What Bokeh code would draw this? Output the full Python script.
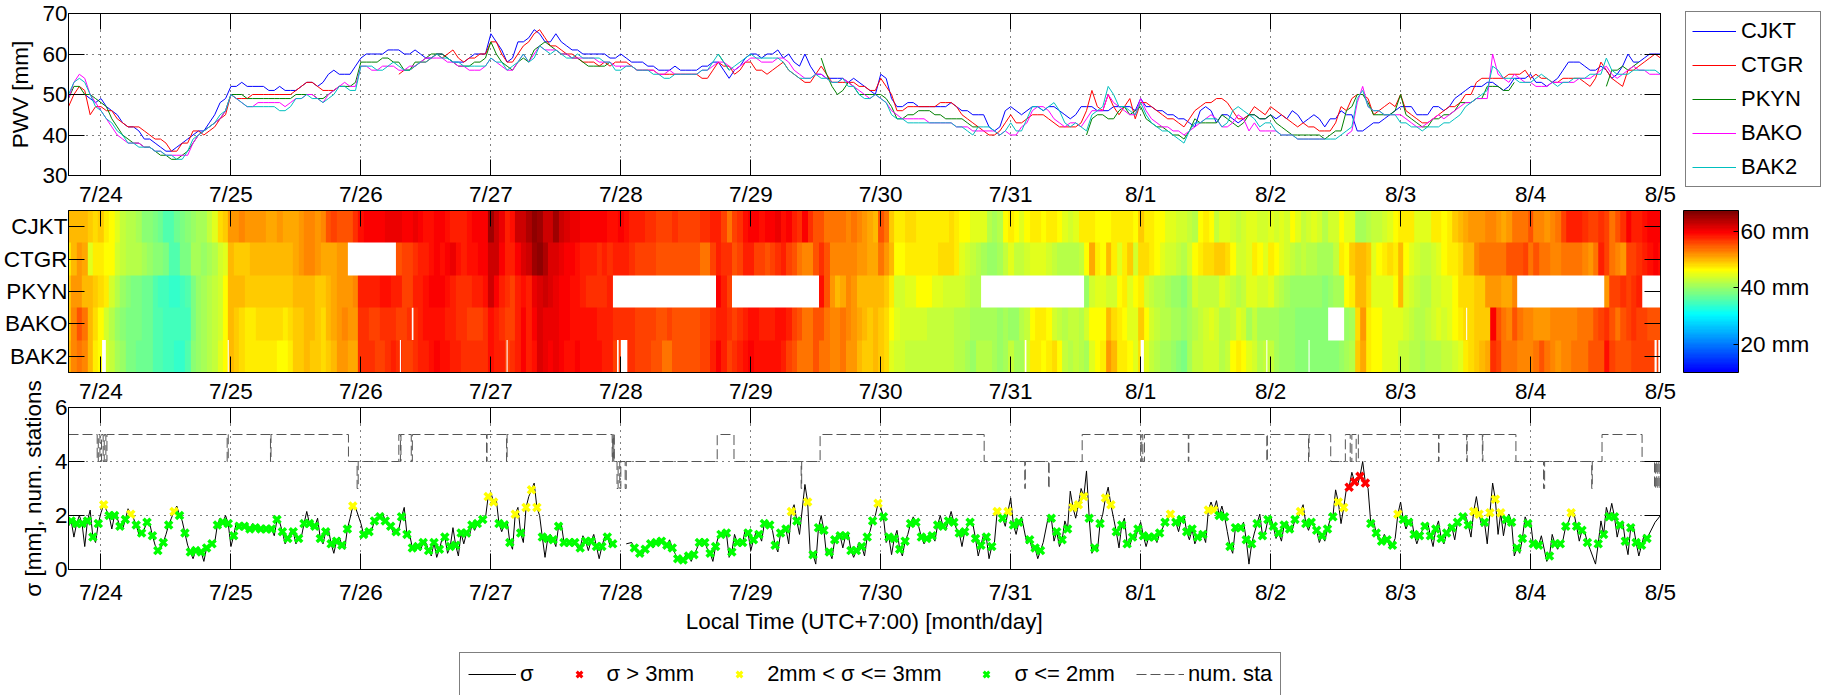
import numpy as np
from bokeh.embed import file_html
from bokeh.layouts import column
from bokeh.models import (ColorBar, CustomJSTickFormatter, FixedTicker, Legend, LegendItem,
                          LinearAxis, LinearColorMapper, PrintfTickFormatter)
from bokeh.plotting import figure
from bokeh.resources import INLINE

FONT = "Liberation Sans"
FONT_SIZE = "22.5px"
NAN = float("nan")

day_hours = [0, 24, 48, 72, 96, 120, 144, 168, 192, 216, 240, 264, 288]
day_labels = ["7/24", "7/25", "7/26", "7/27", "7/28", "7/29", "7/30", "7/31", "8/1", "8/2", "8/3", "8/4", "8/5"]
stations = ["BAK2", "BAKO", "PKYN", "CTGR", "CJKT"]

# hourly PWV [mm], hour -6 (7/23 18:00) to 288, one row per day
cjkt = [50, 50, 50, 50, 49, 48,
        49, 47, 46, 45, 43, 42, 42, 41, 39, 39, 38, 37, 36, 36, 37, 38, 39, 40, 41, 41, 43, 45, 48, 49,
        52, 52, 53, 52, 52, 52, 52, 51, 51, 52, 51, 51, 51, 52, 53, 53, 52, 53, 55, 56, 55, 55, 55, 57,
        59, 60, 60, 60, 60, 61, 61, 61, 60, 60, 61, 60, 59, 59, 60, 60, 59, 58, 58, 58, 59, 60, 60, 60,
        65, 63, 61, 58, 59, 63, 63, 64, 66, 65, 63, 63, 65, 63, 62, 61, 61, 60, 60, 60, 60, 60, 59, 59,
        60, 59, 58, 58, 58, 57, 57, 56, 56, 56, 57, 56, 56, 56, 56, 57, 57, 58, 58, 56, 54, 56, 57, 59,
        60, 60, 59, 60, 60, 61, 59, 60, 58, 57, 60, 57, 55, 55, 54, 54, 54, 54, 53, 54, 53, 52, 51, 50,
        55, 54, 49, 47, 47, 48, 48, 47, 47, 47, 47, 47, 47, 48, 47, 46, 46, 45, 45, 45, 42, 41, 42, 46,
        47, 46, 45, 46, 47, 47, 46, 47, 47, 46, 45, 44, 45, 47, 47, 47, 46, 46, 46, 47, 47, 47, 47, 46,
        49, 47, 47, 46, 46, 45, 45, 44, 44, 43, 42, 46, 47, 46, 43, 45, 45, 44, 43, 44, 45, 45, 44, 44,
        45, 44, 45, 44, 46, 45, 43, 44, 45, 44, 42, 44, 44, 46, 45, 45, 41, 41, 42, 43, 43, 44, 45, 46,
        47, 47, 47, 45, 45, 45, 47, 47, 46, 47, 49, 50, 51, 52, 52, 52, 53, 53, 52, 51, 52, 54, 54, 54,
        55, 53, 53, 52, 53, 54, 56, 58, 58, 58, 57, 56, 56, 57, 56, 54, 55, 57, 60, 58, 58, 59, 60, 60,
        60]
ctgr = [47, 50, 52, 51, 45, 47,
        47, 46, 46, 44, 43, 42, 42, 42, 41, 40, 39, 39, 38, 36, 36, 38, 38, 41, 41, 40, 41, 42, 44, 45,
        50, 49, 49, 49, 50, 50, 50, 50, 50, 50, 50, 50, 51, 52, 53, 53, 52, 51, 51, 51, 52, 52, None, None,
        *[None] * 7, 55, 56, 56, 57, 58, 58, 59, 60, 59, 60, 61, 59, 58, 59, 59, 60, 60,
        63, 63, 60, 58, 58, 60, 62, 63, 65, 66, 64, 62, 62, 61, 60, 60, 59, 58, 58, 58, 57, 58, 57, 58,
        58, 58, 57, 56, 56, 56, 56, 55, 55, 55, 55, 55, 55, 55, 55, 54, 54, 56, 58, 57, 57, 55, 56, 58,
        58, 56, 56, 55, 56, 57, 58, 56, 55, 54, 53, 53, 55, 57, 55, 53, 53, 53, 53, 53, 52, 52, 51, 51,
        54, 52, 50, 46, 46, 47, 47, 47, 47, 47, 47, 48, 48, 48, 47, 45, 44, 43, 42, 41, 40, 40, 41, 43,
        45, 43, 43, 44, 45, 45, 45, 44, 43, 42, 42, 42, 42, 43, 46, 51, 47, 46, 50, 47, 45, 47, 49, 44,
        48, 48, 47, 46, 45, 44, 44, 43, 42, 44, 46, 47, 48, 48, 49, 49, 48, 46, 44, 44, 45, 47, 46, 45,
        47, 46, 45, 44, 43, 42, 43, 42, 42, 41, 41, 41, 43, 47, 46, 49, 50, 50, 49, 45, 46, 47, 48, 47,
        50, 46, 45, 44, 43, 43, 44, 45, 46, 47, 47, 48, 50, 50, 53, 54, 54, 54, 54, 54, 55, 55, 55, 56,
        54, 55, 54, 54, 53, 53, 54, 54, 54, 54, 53, 52, 54, 58, 56, 54, 53, 52, 56, 56, 57, 58, 59, 60,
        59]
pkyn = [49, 52, 52, 50, 50, 49,
        48, 47, 44, 42, 40, 39, 38, 38, 37, 37, 36, 35, 35, 34, 34, 35, 36, 38, 40, 41, 42, 43, 44, 46,
        50, 50, 50, 49, 49, 49, 49, 49, 49, 49, 49, 49, 50, 50, 50, 50, 49, 49, 50, 51, 52, 52, 52, 53,
        58, 58, 58, 58, 59, 59, 58, 58, 56, 56, 58, 58, 59, 60, 60, 60, 59, 58, 57, 57, 57, 58, 58, 59,
        63, 60, 58, 57, 56, 58, 59, 58, 61, 62, 63, 62, 61, 60, 60, 59, 59, 58, 57, 57, 57, 57, 58, None,
        *[None] * 18, 60, 58, 56, None, None, None,
        *[None] * 13, 59, 55, 52, 50, 51, 53, 52, 50, 50, 50, 50,
        50, 49, 47, 44, 44, 45, 45, 46, 46, 46, 45, 45, 44, 44, 44, 44, 43, 42, 42, *[None] * 5,
        *[None] * 14, 40, 44, 45, 45, 44, 44, 46, 47, 45, 46,
        47, 44, 43, 42, 42, 41, 40, 40, 39, 41, 44, 43, 43, 43, 43, 45, 44, 43, 42, 43, 45, 45, 44, 44,
        45, 43, 42, 41, 40, 40, 40, 40, 40, 40, 39, 40, 41, 41, 46, 47, 50, 50, 48, 45, 45, 45, 45, 46,
        50, 45, 44, 43, 42, 42, 44, 44, 45, 45, 46, 48, 48, 48, 49, 49, 52, 52, 52, 51, 51, 53, None, None,
        *[None] * 14, 52, 56, 56, 57, 56, 57, 58, None, None, None,
        None]
bako = [49, 53, 55, 54, 50, 48,
        46, 44, 42, 40, 39, 38, 38, 38, 37, 37, 36, 36, 35, 35, 35, 35, 35, 38, 40, 41, 42, 43, 44, 46,
        50, 49, 48, 47, 47, 48, 48, 48, 48, 48, 47, 48, 49, 49, 50, 50, 49, 48, 50, 51, 52, 53, 52, 52,
        57, 57, 56, 56, 57, 57, 57, 56, 56, 57, 57, 58, 59, 59, 59, 59, 58, 58, 57, 57, 56, 56, 56, 57,
        59, 58, 57, 56, 56, 58, 60, 58, 60, 62, 61, 61, 61, 60, 60, 59, 59, 59, 59, 59, 58, 58, 58, 57,
        57, 57, 57, 56, 56, 56, 56, 55, 55, 56, 55, 55, 55, 55, 55, 56, 56, 57, 58, 58, 57, 56, 57, 58,
        59, 59, 58, 58, 58, 59, 59, 58, 56, 55, 54, 54, 55, 55, 54, 53, 53, 54, 53, 52, 51, 50, 49, 50,
        49, 48, 46, 45, 44, 44, 44, 44, 44, 43, 43, 43, 43, 43, 42, 42, 42, 41, 41, 41, 41, 41, 40, 41,
        40, 40, 42, 43, 46, 47, 47, 46, 44, 43, 42, 43, 43, 42, 44, 46, 46, 46, 50, 48, 47, 46, 45, 45,
        49, 46, 44, 43, 42, 42, 41, 41, 40, 41, 42, 43, 44, 45, 44, 42, 42, 43, 45, 44, 41, 43, 41, 41,
        41, 41, 40, 40, 40, 39, 39, 39, 39, 39, 39, None, None, None, 40, 41, 48, 52, 47, 46, 46, 45, 45, 45,
        45, 44, 43, 42, 42, 43, 44, 45, 44, 45, 46, 47, 48, 48, 49, 49, 49, 60, 55, 54, 53, 55, 54, 53,
        53, 52, 52, 52, 53, 53, 53, 53, 53, 54, 54, 54, 55, 56, 57, 55, 54, 55, 56, 57, 56, 56, 55, 55,
        55]
bak2 = [50, 53, 54, 53, 50, 47,
        46, 44, 43, 41, 40, 38, 38, 37, 37, 37, 36, 36, 35, 35, 34, 34, 36, 39, 40, 41, 42, 43, 45, 46,
        50, 49, 48, 47, 47, 47, 47, 47, 47, 46, 46, 47, 49, 49, 50, 49, 49, 48, 49, 50, 52, 52, 51, 51,
        57, 57, 57, 56, 56, 57, 58, 57, 56, 56, 57, 58, 58, 59, 60, 59, 59, 58, 58, 57, 57, 57, 57, 57,
        59, 58, 58, 56, 57, 58, 60, 58, 59, 62, 61, 60, 61, 60, 59, 59, 60, 59, 59, 59, 59, 58, 58, 56,
        56, 57, 57, 56, 56, 56, 55, 55, 54, 54, 55, 55, 55, 55, 55, 56, 56, 58, 60, 58, 56, 57, 58, 59,
        60, 59, 59, 59, 59, 59, 58, 56, 55, 54, 54, 54, 55, 54, 54, 53, 53, 54, 52, 52, 50, 49, 49, 50,
        49, 48, 45, 44, 44, 43, 43, 43, 43, 43, 43, 43, 43, 43, 42, 42, 41, 40, 42, 42, 42, 41, 40, 41,
        43, 41, 41, 44, 47, 47, 46, 47, 48, 46, 43, 42, 43, 42, 41, 45, 46, 47, 52, 50, 47, 47, 46, 45,
        48, 45, 43, 42, 41, 41, 40, 39, 38, 41, 43, 43, 44, 44, 44, 42, 43, 46, 47, 46, 45, 44, 42, 43,
        43, 41, 40, 40, 40, 39, 39, 39, 39, 39, 39, 39, 39, 40, 41, 42, 49, 51, 47, 46, 46, 45, 45, 45,
        43, 43, 42, 42, 41, 42, 42, 42, 43, 43, 44, 45, 47, 48, 49, 50, 51, 57, 56, 54, 54, 54, 53, 53,
        53, 54, 55, 54, 53, 52, 53, 53, 54, 54, 54, 55, 55, 55, 59, 56, 55, 55, 55, 56, 56, 56, 56, 56,
        55]

# short outages in the heat map: hours and row (0 = BAK2, 1 = BAKO)
gap_start = [0.2, 23.4, 55.2, 74.9, 95.3, 96, 170.6, 192, 215.2, 223, 286.9, 287.6, 57.4, 252.1]
gap_end = [0.9, 23.6, 55.4, 75.1, 95.6, 97.2, 170.9, 192.6, 215.4, 223.2, 287.3, 288, 57.7, 252.3]
gap_row = [0, 0, 0, 0, 0, 0, 0, 0, 0, 0, 0, 0, 1, 1]

# sigma [mm], hourly means at hour -5.5 to 287.5; None where no marker was drawn
sigma_mean = [1.8, 1.7, 1.7, 1.8, 1.2, 1.7,
              2.4, 2.0, 2.0, 1.6, 1.85, 2.05, 1.65, 1.35, 1.75, 1.25, 0.7, 1.0, 1.65, 2.15, 2.0, 1.35, 0.65, 0.7, 0.65, 0.8, 0.95, 1.65, 1.75, 1.7,
              1.25, 1.6, 1.6, 1.5, 1.55, 1.5, 1.5, 1.5, 1.85, 1.4, 1.15, 1.4, 1.15, 1.7, 1.7, 1.6, 1.15, 1.4, 0.95, 1.05, 0.9, 1.5, 2.35, None,
              1.3, 1.4, 1.8, 1.95, 1.8, 1.6, 1.4, 1.95, 1.3, 0.8, 0.85, 1.0, 0.7, 1.0, 0.75, 1.2, 0.85, 0.9, 1.35, 1.35, 1.65, 1.7, 1.85, 2.7,
              2.5, 1.7, 1.65, 1.0, 2.05, 1.35, 2.3, 2.95, 2.3, 1.2, 1.15, 1.1, 1.6, 1.0, 1.0, 1.0, 0.8, 1.05, 1.05, 0.85, 0.85, 1.2, 0.95, None,
              None, None, 0.8, 0.6, 0.75, 0.95, 1.0, 1.05, 0.9, 0.8, 0.4, 0.35, 0.5, 0.55, 1.0, 1.0, 0.6, 0.85, 1.3, 1.35, 0.65, 1.0, 1.0, 1.35,
              1.1, 1.3, 1.7, 1.65, 0.9, 1.35, 1.5, 2.15, 1.8, None, 2.5, 0.55, 1.55, 1.45, 0.65, 1.1, 1.25, 1.25, 0.7, 0.7, 0.85, 1.2, 1.8, 2.45,
              1.95, 1.2, 1.15, 0.75, 1.05, 1.7, 1.75, 1.2, 1.15, 1.25, 1.65, 1.6, 1.8, 1.75, 1.35, 1.4, 1.75, 1.15, 0.9, 1.2, 0.85, 2.15, 1.9, 2.15,
              1.65, 1.75, None, 1.1, 0.8, 0.7, None, 1.9, 1.4, 1.1, 1.5, 2.3, 2.4, 2.7, 1.9, 0.8, 1.7, 2.65, 2.4, 1.4, 1.65, 0.95, 1.2, 1.5,
              1.25, 1.2, 1.2, 1.35, 1.75, 2.05, 1.75, 1.85, 1.4, 1.5, 1.2, 1.3, 2.2, 2.2, 2.0, 1.95, 0.85, 1.55, 1.55, 1.1, 0.95, 1.7, 1.25, 1.85,
              1.6, 1.35, 1.65, 1.5, 1.85, 2.15, 1.7, 1.75, 1.45, 1.25, 1.5, 1.95, 2.5, 2.3, 3.05, 3.25, 3.45, 3.2, 1.7, 1.35, 1.05, 1.1, 0.9, 2.05,
              1.85, 1.75, 1.3, 1.25, 1.6, 1.25, 1.5, 1.15, 1.35, 1.55, 1.75, 1.95, 1.65, 2.15, 2.05, 1.75, 2.1, 2.6, 2.1, 1.85, 1.75, 0.8, 1.15, 1.7,
              0.95, 0.9, None, 0.5, 0.95, 0.95, 1.6, 2.1, 1.6, 1.45, 1.0, None, 0.95, 1.3, 1.95, 1.95, 1.65, 1.05, 1.55, 1.0, 0.9, 1.15, None, None]

# sigma [mm] read on the whole hour, between the means; None where the trace stops
sigma_peak = [1.6, 1.2, 2.0, 0.85, 2.2, 1.0,
              2.1, 2.2, 1.5, 1.9, 1.5, 2.25, 1.9, 1.3, 1.5, 1.7, 0.9, 0.75, 1.3, 1.9, 2.35, 1.8, 0.9, 0.4, 0.55, 0.3, 0.8, 1.0, 1.9, 2.0,
              0.85, 1.75, 1.75, 1.45, 1.7, 1.45, 1.65, 1.4, 1.25, 1.75, 0.95, 1.4, 0.95, 1.2, 2.15, 1.5, 1.9, 0.95, 1.5, 0.6, 1.2, 0.75, 1.9, 2.3,
              1.7, 1.25, 1.45, 1.9, 2.1, 1.7, 1.35, 1.5, 2.3, 1.3, 0.7, 0.7, 1.0, 0.5, 0.45, 1.15, 0.6, 1.55, 0.5, 0.95, 1.2, 1.45, 1.75, 1.9,
              2.85, 2.6, 1.4, 1.8, 0.75, 2.3, 1.0, 2.7, 3.2, 2.0, 0.45, 1.3, 0.85, 1.7, 0.85, 1.15, 0.8, 1.25, 0.7, 1.3, 0.4, 1.2, 0.9, None,
              None, 0.95, 1.0, 0.75, 0.55, 0.9, 0.8, 1.15, 1.0, 1.1, 0.6, 0.3, 0.55, 0.3, 0.75, 1.15, 0.75, 0.3, 1.2, 1.45, 0.45, 1.3, 0.85, 1.5,
              0.7, 1.4, 1.05, 1.75, 1.45, 0.65, 1.5, 0.95, 2.4, 1.3, 3.15, 0.5, 0.2, 2.0, 0.5, 0.4, 1.3, 0.8, 1.3, 0.45, 1.0, 0.5, 1.4, 2.0,
              2.3, 1.0, 0.55, 1.45, 0.5, 1.3, 1.95, 1.6, 0.95, 1.3, 1.05, 2.0, 1.45, 2.15, 1.5, 0.85, 1.6, 1.7, 0.5, 1.3, 0.4, 1.0, 2.0, 1.6,
              2.65, 1.3, 1.95, 0.95, 0.75, 0.4, 1.0, 2.0, 1.05, 0.85, 1.8, 2.9, 1.9, 3.0, 3.65, 0.6, 0.65, 2.05, 3.05, 1.9, 0.8, 1.9, 0.9, 1.1,
              1.75, 0.85, 1.25, 1.0, 1.5, 1.85, 1.9, 1.4, 2.0, 1.1, 0.95, 1.4, 1.0, 2.5, 2.55, 2.35, 1.4, 0.6, 1.6, 1.75, 0.2, 1.35, 2.05, 1.35,
              1.95, 1.15, 1.05, 1.75, 1.45, 1.9, 2.4, 1.45, 1.65, 1.0, 1.05, 1.85, 2.95, 1.7, 3.0, 3.6, 3.1, 4.0, 3.0, 1.8, 1.1, 1.3, 0.85, 1.15,
              2.5, 1.5, 1.9, 0.95, 1.45, 1.75, 0.85, 1.8, 0.95, 1.6, 1.1, 1.9, 2.0, 1.2, 2.7, 1.6, 0.95, 3.2, 1.3, 1.25, 2.05, 0.5, 0.6, 1.95,
              1.8, 0.85, 1.25, 0.3, 1.3, 0.75, 1.1, 1.75, 2.1, 1.05, 1.4, 0.75, 0.2, 1.8, 2.3, 2.45, 1.2, 1.8, 0.55, 1.6, 0.5, 1.3, 1.35, 1.75,
              2.0]

# number of stations: value from each change hour on
sta_hours = [-6, -0.7, -0.5, -0.2, 0.1, 0.4, 0.6, 0.9, 1.1, 23.3, 23.5, 31.3, 31.4, 45.7, 47.3, 47.5, 55, 55.3, 55.4,
             57.3, 57.5, 71.2, 71.3, 74.9, 75, 94.4, 94.5, 94.6, 94.7, 94.8, 95.3, 95.5, 95.8, 96, 96.8, 97, 113.8,
             116.9, 129.3, 129.4, 132.8, 163.1, 170.6, 170.7, 175, 175.1, 181.2, 192, 192.2, 192.4, 192.7, 200.8,
             200.9, 215.3, 215.4, 223, 223.1, 227.1, 229.8, 230.7, 231, 231.8, 232.2, 247, 247.1, 252.2, 252.3,
             255.1, 255.2, 261.3, 266.4, 266.6, 275.3, 275.4, 277.2, 284.6, 286.9, 287.1, 287.3, 287.5, 287.7,
             287.9, 288]
sta_values = [5, 4, 5, 4, 5, 4, 5, 4, 5, 4, 5, 4, 5, 4, 3, 4, 5, 4, 5,
              4, 5, 4, 5, 4, 5, 4, 5, 4, 5, 4, 3, 4, 3, 4, 3, 4, 5,
              4, 3, 4, 5, 4, 3, 4, 3, 4, 5, 4, 5, 4, 5, 4,
              5, 4, 5, 4, 5, 4, 5, 4, 5, 4, 5, 4, 5, 4, 5,
              4, 5, 4, 3, 4, 3, 4, 5, 4, 3, 4, 3, 4, 3,
              4, 4]

# colour map stops of the heat map: value, (r, g, b)
color_values = [10, 30.5, 46.5, 60, 67.5]
color_stops = [(0, 0, 255), (0, 255, 255), (255, 255, 0), (255, 0, 0), (128, 0, 0)]


def make_palette(levels=64):
    grid = np.linspace(color_values[0], color_values[-1], levels)
    rgb = [np.interp(grid, color_values, [c[i] for c in color_stops]) for i in range(3)]
    return ["#%02x%02x%02x" % (int(r), int(g), int(b)) for r, g, b in zip(*rgb)]


def setup_figure(y_range, bottom, y_ticks, y_overrides=None, y_label=None, x_label=None, grid=True,
                 top_border=5, margin=(0, 0, 0, 0)):
    p = figure(frame_width=1592, frame_height=162, x_range=(-6, 288), y_range=y_range,
               min_border_left=68, min_border_right=152, min_border_top=top_border, min_border_bottom=bottom,
               toolbar_location=None, tools="", output_backend="svg", margin=margin, border_fill_color=None)
    p.outline_line_color = "black"
    blank = CustomJSTickFormatter(code="return ''")
    p.add_layout(LinearAxis(ticker=FixedTicker(ticks=day_hours), formatter=blank), "above")
    p.add_layout(LinearAxis(ticker=FixedTicker(ticks=y_ticks), formatter=blank), "right")
    p.below[0].ticker = FixedTicker(ticks=day_hours)
    p.left[0].ticker = FixedTicker(ticks=y_ticks)
    for axis in p.axis:
        axis.major_tick_in = 16
        axis.major_tick_out = 0
        axis.minor_tick_line_color = None
        axis.axis_line_color = "black"
        axis.major_tick_line_color = "black"
        axis.major_label_text_font = FONT
        axis.major_label_text_font_size = FONT_SIZE
        axis.major_label_text_color = "black"
        axis.axis_label_text_font = FONT
        axis.axis_label_text_font_size = FONT_SIZE
        axis.axis_label_text_font_style = "normal"
        axis.axis_label_text_color = "black"
    for axis in [p.above[0], p.right[0]]:
        axis.major_label_standoff = 0
        axis.major_label_text_font_size = "1px"
    p.below[0].major_label_overrides = dict(zip(day_hours, day_labels))
    p.below[0].major_label_standoff = 6
    p.left[0].major_label_standoff = 1
    if y_overrides:
        p.left[0].major_label_overrides = y_overrides
    p.left[0].axis_label = y_label
    p.left[0].axis_label_standoff = 6
    p.below[0].axis_label = x_label
    p.below[0].axis_label_standoff = 8
    if grid:
        p.grid.grid_line_color = "black"
        p.grid.grid_line_dash = [1, 5]
    else:
        p.grid.grid_line_color = None
    return p


def legend_figure(width, height, margin):
    # the legends sit outside the axes frames, so each one gets a small figure of its own
    p = figure(frame_width=width, frame_height=height, x_range=(0, 1), y_range=(0, 1), x_axis_location=None,
               y_axis_location=None, min_border_left=0, min_border_right=0, min_border_top=0, min_border_bottom=0,
               toolbar_location=None, tools="", output_backend="svg", margin=margin, outline_line_color=None,
               border_fill_color=None)
    p.grid.visible = False
    return p


def add_legend(p, items, **kwargs):
    p.add_layout(Legend(items=items, location="top_left", margin=1, label_text_font=FONT, label_text_font_size="22px",
                        label_text_color="black", border_line_color="black", border_line_width=1,
                        background_fill_alpha=1, **kwargs), "center")


hours = np.arange(-6, 289)
series = [("CJKT", cjkt, "#0000ff"), ("CTGR", ctgr, "#ff0000"), ("PKYN", pkyn, "#008000"),
          ("BAKO", bako, "#ff00ff"), ("BAK2", bak2, "#00bfbf")]

# top panel: PWV lines
top = setup_figure((30, 70), 30, [30, 40, 50, 60, 70], y_label="PWV [mm]", top_border=13)
key = legend_figure(137, 180, (-199, 0, 0, 1684))
items = []
for name, values, color in series:
    top.line(hours, np.array(values, dtype=float), line_color=color, line_width=1)
    r = key.line([NAN], [NAN], line_color=color, line_width=1)
    items.append(LegendItem(label=name, renderers=[r]))
add_legend(key, items, padding=6, spacing=8, glyph_width=44, glyph_height=20, label_height=20, label_width=73, label_standoff=5)

# middle panel: heat map
row_labels = {i + 0.5: name for i, name in enumerate(stations)}
mid = setup_figure((0, 5), 30, [0.5, 1.5, 2.5, 3.5, 4.5], y_overrides=row_labels, grid=False, margin=(15, 0, 0, 0))
mapper = LinearColorMapper(palette=make_palette(), low=color_values[0], high=color_values[-1], nan_color="white")
field = np.array([bak2, bako, pkyn, ctgr, cjkt], dtype=float)
mid.image(image=[field], x=-6.5, y=0, dw=295, dh=5, color_mapper=mapper)
mid.quad(left=gap_start, right=gap_end, bottom=gap_row, top=[r + 1 for r in gap_row], fill_color="white", line_color=None)
mid.add_layout(ColorBar(color_mapper=mapper, location=(1615, 0), width=55, height=162, padding=0, margin=0,
                        ticker=FixedTicker(ticks=[20, 40, 60]), formatter=PrintfTickFormatter(format="%d mm"),
                        major_tick_in=5, major_tick_out=0, major_tick_line_color="black", minor_tick_line_color=None,
                        bar_line_color="black", label_standoff=2, major_label_text_font=FONT,
                        major_label_text_font_size=FONT_SIZE, major_label_text_color="black",
                        background_fill_color=None), "center")

# bottom panel: sigma and number of stations
bot = setup_figure((0, 6), 82, [0, 2, 4, 6], y_label="\u03c3 [mm], num. stations",
                   x_label="Local Time (UTC+7:00) [month/day]", top_border=35, margin=(-34, 0, 0, 0))
bot.below[0].major_label_standoff = 10
bot.below[0].axis_label_standoff = 1
line_x, line_y = [], []
for i, h in enumerate(hours):
    line_x.append(h)
    line_y.append(sigma_peak[i])
    if i < len(sigma_mean) and sigma_mean[i] is not None:
        line_x.append(h + 0.5)
        line_y.append(sigma_mean[i])
bot.line(line_x, np.array(line_y, dtype=float), line_color="black", line_width=1)
bot.step(sta_hours, sta_values, mode="after", line_color="#555555", line_width=1, line_dash=[10, 4])

mean_hours = hours[:-1] + 0.5
mean_values = np.array(sigma_mean, dtype=float)
classes = [(mean_values > 3, "#ff0000"), ((mean_values > 2) & (mean_values <= 3), "#ffff00"), (mean_values <= 2, "#00ff00")]
for mask, color in classes:
    bot.scatter(mean_hours[mask], mean_values[mask], marker="x", size=10, line_color=color, line_width=3.5)

under = legend_figure(850, 44, (0, 0, 0, 458))
under_items = [LegendItem(label="\u03c3", renderers=[under.line([NAN], [NAN], line_color="black", line_width=1)])]
for label, color in [("\u03c3 > 3mm", "#ff0000"), ("2mm < \u03c3 <= 3mm", "#ffff00"), ("\u03c3 <= 2mm", "#00ff00")]:
    r = under.scatter([NAN], [NAN], marker="x", size=9, line_color=color, line_width=3)
    under_items.append(LegendItem(label=label, renderers=[r]))
under_items.append(LegendItem(label="num. sta", renderers=[under.line([NAN], [NAN], line_color="#555555", line_width=1, line_dash=[10, 4])]))
add_legend(under, under_items, orientation="horizontal", padding=8, spacing=21, glyph_width=48, glyph_height=20,
           label_height=20, label_width=0, label_standoff=4)

page = column(top, key, mid, bot, under)
open("out.html", "w").write(file_html(page, INLINE))
